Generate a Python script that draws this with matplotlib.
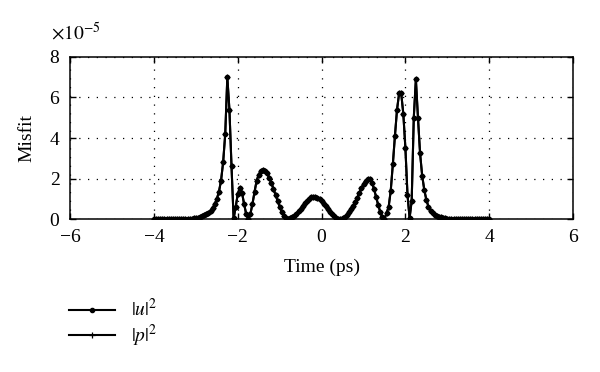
import numpy as np
import matplotlib.pyplot as plt

plt.rcParams["font.family"] = ["Liberation Serif", "DejaVu Serif"]
plt.rcParams["mathtext.fontset"] = "stix"
plt.rcParams["font.size"] = 14

# Misfit values (units of 1e-5), sampled every 0.05 ps from -4 to 4 ps
u_misfit = [
    0, 0, 0, 0, 0, 0, 0, 0, 0, 0,
    0, 0, 0, 0, 0, 0.005, 0.01, 0.015, 0.02, 0.03,
    0.04, 0.06, 0.09, 0.13, 0.18, 0.24, 0.32, 0.42, 0.55, 0.75,
    1.0, 1.35, 1.9, 2.8, 4.2, 7.0, 5.4, 2.6, 0.03, 0.6,
    1.25, 1.55, 1.3, 0.75, 0.25, 0.02, 0.25, 0.75, 1.35, 1.9,
    2.2, 2.38, 2.4, 2.37, 2.25, 2.05, 1.8, 1.5, 1.2, 0.9,
    0.6, 0.35, 0.15, 0.04, 0.0, 0.03, 0.08, 0.16, 0.27, 0.39,
    0.52, 0.65, 0.78, 0.9, 1.0, 1.07, 1.1, 1.09, 1.05, 0.98,
    0.88, 0.76, 0.63, 0.5, 0.37, 0.25, 0.15, 0.07, 0.02, 0.0,
    0.03, 0.1, 0.2, 0.33, 0.48, 0.65, 0.85, 1.05, 1.3, 1.52,
    1.73, 1.9, 2.0, 1.97, 1.8, 1.5, 1.1, 0.7, 0.35, 0.1,
    0.0, 0.3, 0.6, 1.4, 2.7, 4.1, 5.4, 6.2, 6.2, 5.2,
    3.5, 1.2, 0.05, 0.9, 5.0, 6.9, 5.0, 3.25, 2.15, 1.45,
    0.95, 0.62, 0.42, 0.3, 0.22, 0.16, 0.12, 0.08, 0.05, 0.03,
    0.02, 0.01, 0.005, 0, 0, 0, 0, 0, 0, 0,
    0, 0, 0, 0, 0, 0, 0, 0, 0, 0,
    0,
]
# |p|^2 misfit lies on top of the |u|^2 curve
p_misfit = list(u_misfit)

t_start, t_end = -4.0, 4.0
time_ps = np.linspace(t_start, t_end, len(u_misfit))
u = np.array(u_misfit) * 1e-5
p = np.array(p_misfit) * 1e-5

fig = plt.figure(figsize=(6, 3.72), dpi=100)
ax = fig.add_axes([0.117, 0.411, 0.838, 0.436])

ax.plot(time_ps, u, "-", color="black", lw=1.5, marker=".", ms=6, label=r"$|u|^2$")
ax.plot(time_ps, p, "-", color="black", lw=1.5, marker="+", ms=4.5, mew=0.9, label=r"$|p|^2$")

ax.set_xlim(-6, 6)
ax.set_ylim(0, 8e-5)
ax.set_xticks([-6, -4, -2, 0, 2, 4, 6])
ax.set_yticks([0, 2e-5, 4e-5, 6e-5, 8e-5])
ax.ticklabel_format(style="sci", axis="y", scilimits=(0, 0), useMathText=True)
ax.yaxis.get_offset_text().set_visible(False)
fig.text(0.085, 0.912, r"$\times10^{-5}$", fontsize=14, va="center", ha="left")

ax.grid(True, color="black", linestyle=(0, (1, 6)), lw=0.9)
ax.tick_params(direction="in", top=True, right=True, length=4, width=1)
ax.tick_params(axis="x", pad=7)
ax.tick_params(axis="y", pad=7)
for s in ax.spines.values():
    s.set_linewidth(1.1)

ax.set_xlabel("Time (ps)", labelpad=9)
ax.set_ylabel("Misfit", labelpad=10)

h, l = ax.get_legend_handles_labels()
fig.legend(h, l, loc="upper left", bbox_to_anchor=(0.085, 0.245), frameon=False,
           handlelength=2.4, numpoints=1, labelspacing=0.1, fontsize=14)

fig.savefig("out.png", dpi=100)
